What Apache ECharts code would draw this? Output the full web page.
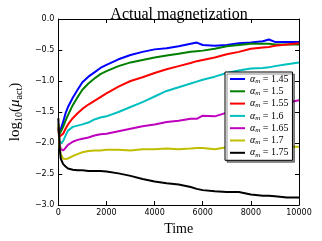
<!DOCTYPE html>
<html><head><meta charset="utf-8">
<script src="https://cdn.jsdelivr.net/npm/echarts@6/dist/echarts.min.js"></script>
<style>html,body{margin:0;padding:0;background:#fff}#c{width:322px;height:241px}</style>
</head><body><div id="c"></div>
<script>
var time = [0,50,100,200,300,400,600,800,1000,1250,1500,1750,2000,2500,3000,3500,4000,4500,5000,5500,5750,6000,6500,7000,7500,8000,8500,8750,9000,9500,10000];
var alphaLabels = ['1.45','1.5','1.55','1.6','1.65','1.7','1.75'];
var colors = ['#0000ff','#008000','#ff0000','#00bfbf','#bf00bf','#bfbf00','#000000'];
var a145 = [-1.75,-1.84,-1.82,-1.66,-1.52,-1.42,-1.27,-1.14,-1.02,-0.93,-0.86,-0.79,-0.74,-0.65,-0.58,-0.53,-0.49,-0.47,-0.44,-0.40,-0.38,-0.42,-0.43,-0.42,-0.39,-0.38,-0.36,-0.33,-0.37,-0.37,-0.37];
var a150 = [-1.75,-1.86,-1.85,-1.74,-1.64,-1.55,-1.39,-1.26,-1.14,-1.04,-0.96,-0.89,-0.84,-0.76,-0.70,-0.66,-0.62,-0.59,-0.56,-0.53,-0.52,-0.51,-0.48,-0.44,-0.42,-0.40,-0.40,-0.40,-0.41,-0.41,-0.41];
var a155 = [-1.75,-1.90,-1.93,-1.85,-1.77,-1.70,-1.60,-1.52,-1.45,-1.38,-1.32,-1.26,-1.20,-1.09,-1.00,-0.94,-0.87,-0.81,-0.76,-0.71,-0.68,-0.66,-0.62,-0.57,-0.53,-0.48,-0.46,-0.45,-0.43,-0.41,-0.39];
var a160 = [-1.75,-1.95,-2.01,-1.97,-1.88,-1.80,-1.74,-1.72,-1.70,-1.67,-1.62,-1.59,-1.57,-1.50,-1.42,-1.34,-1.25,-1.16,-1.10,-1.04,-1.01,-0.98,-0.93,-0.87,-0.83,-0.80,-0.79,-0.78,-0.76,-0.73,-0.70];
var a165 = [-1.75,-2.00,-2.10,-2.12,-2.08,-2.03,-1.98,-1.95,-1.93,-1.91,-1.88,-1.86,-1.85,-1.81,-1.77,-1.73,-1.70,-1.66,-1.64,-1.61,-1.61,-1.56,-1.57,-1.51,-1.49,-1.45,-1.42,-1.40,-1.38,-1.35,-1.31];
var a170 = [-1.70,-2.05,-2.18,-2.25,-2.26,-2.25,-2.21,-2.18,-2.15,-2.13,-2.12,-2.12,-2.11,-2.11,-2.12,-2.10,-2.10,-2.09,-2.10,-2.09,-2.08,-2.08,-2.10,-2.07,-2.08,-2.07,-2.08,-2.06,-2.07,-2.06,-2.06];
var a175 = [-1.60,-2.05,-2.25,-2.34,-2.38,-2.41,-2.43,-2.44,-2.44,-2.45,-2.45,-2.45,-2.46,-2.49,-2.53,-2.58,-2.62,-2.65,-2.67,-2.71,-2.74,-2.76,-2.78,-2.79,-2.79,-2.83,-2.85,-2.85,-2.86,-2.88,-2.88];
var allSeries = [a145,a150,a155,a160,a165,a170,a175];
var xTicks = {min:0, max:10000, interval:2000};
var yTicks = {min:-3, max:0, interval:0.5};

var chart = echarts.init(document.getElementById('c'), null, {renderer:'canvas'});
var serif = 'Liberation Serif';
var tickFont = {fontFamily:'DejaVu Sans', fontSize:8, color:'#000'};
function fmtY(v){ return (v<0?'\u2212':'') + Math.abs(v).toFixed(1); }
function fmtX(v){ return String(Math.round(v)); }
function axisCommon(extra){
  return Object.assign({
    axisLine:{show:true,onZero:false,lineStyle:{color:'#000',width:1}},
    axisTick:{show:true,inside:true,length:4,lineStyle:{color:'#000',width:1}},
    splitLine:{show:false}
  }, extra);
}
var series = allSeries.map(function(arr,i){
  return {
    name: alphaLabels[i], type:'line', showSymbol:false, symbol:'none',
    data: time.map(function(t,j){ return [t, arr[j]]; }),
    lineStyle:{color:colors[i], width:2}, itemStyle:{color:colors[i]},
    xAxisIndex:0, yAxisIndex:0, animation:false, z:2
  };
});
chart.setOption({
  animation:false,
  title:{text:'Actual magnetization', left:174, textAlign:'center', top:2,
    textStyle:{fontFamily:serif, fontSize:16, fontWeight:'normal', color:'#000'}},
  grid:{left:49, top:19, right:23, bottom:30, containLabel:false},
  xAxis:[
    axisCommon({type:'value', position:'bottom', min:xTicks.min, max:xTicks.max, interval:xTicks.interval,
      axisLabel:Object.assign({margin:4, formatter:fmtX}, tickFont),
      name:'Time', nameLocation:'middle', nameGap:17,
      nameTextStyle:{fontFamily:serif, fontSize:14, color:'#000'}}),
    axisCommon({type:'value', position:'top', min:xTicks.min, max:xTicks.max, interval:xTicks.interval,
      axisLabel:{show:false}})
  ],
  yAxis:[
    axisCommon({type:'value', position:'left', min:yTicks.min, max:yTicks.max, interval:yTicks.interval,
      axisLabel:Object.assign({margin:4, formatter:fmtY}, tickFont),
      name:'log{s|10}({g|\u03bc}{s|act})', nameLocation:'middle', nameGap:27,
      nameTextStyle:{fontFamily:serif, fontSize:15, color:'#000',
        rich:{s:{fontFamily:serif, fontSize:10, verticalAlign:'bottom', padding:[7,0,0,0]},
              g:{fontFamily:serif, fontSize:15, fontStyle:'italic'}}}}),
    axisCommon({type:'value', position:'right', min:yTicks.min, max:yTicks.max, interval:yTicks.interval,
      axisLabel:{show:false}})
  ],
  legend:{
    orient:'vertical', left:225, top:72, itemWidth:15, itemHeight:2, itemGap:1.8,
    icon:'rect', padding:[2,4,2,5],
    backgroundColor:'#fff', borderColor:'#000', borderWidth:1,
    shadowColor:'rgba(0,0,0,0.45)', shadowBlur:0, shadowOffsetX:2, shadowOffsetY:2,
    data: alphaLabels,
    formatter:function(n){ return '{a|\u03b1}{s|m} = ' + n; },
    textStyle:{fontFamily:serif, fontSize:10, color:'#000', lineHeight:10,
      rich:{a:{fontFamily:serif, fontSize:10, fontStyle:'italic'},
            s:{fontFamily:serif, fontSize:7, fontStyle:'italic', padding:[4,0,0,0]}}}
  },
  series: series
});
</script></body></html>
